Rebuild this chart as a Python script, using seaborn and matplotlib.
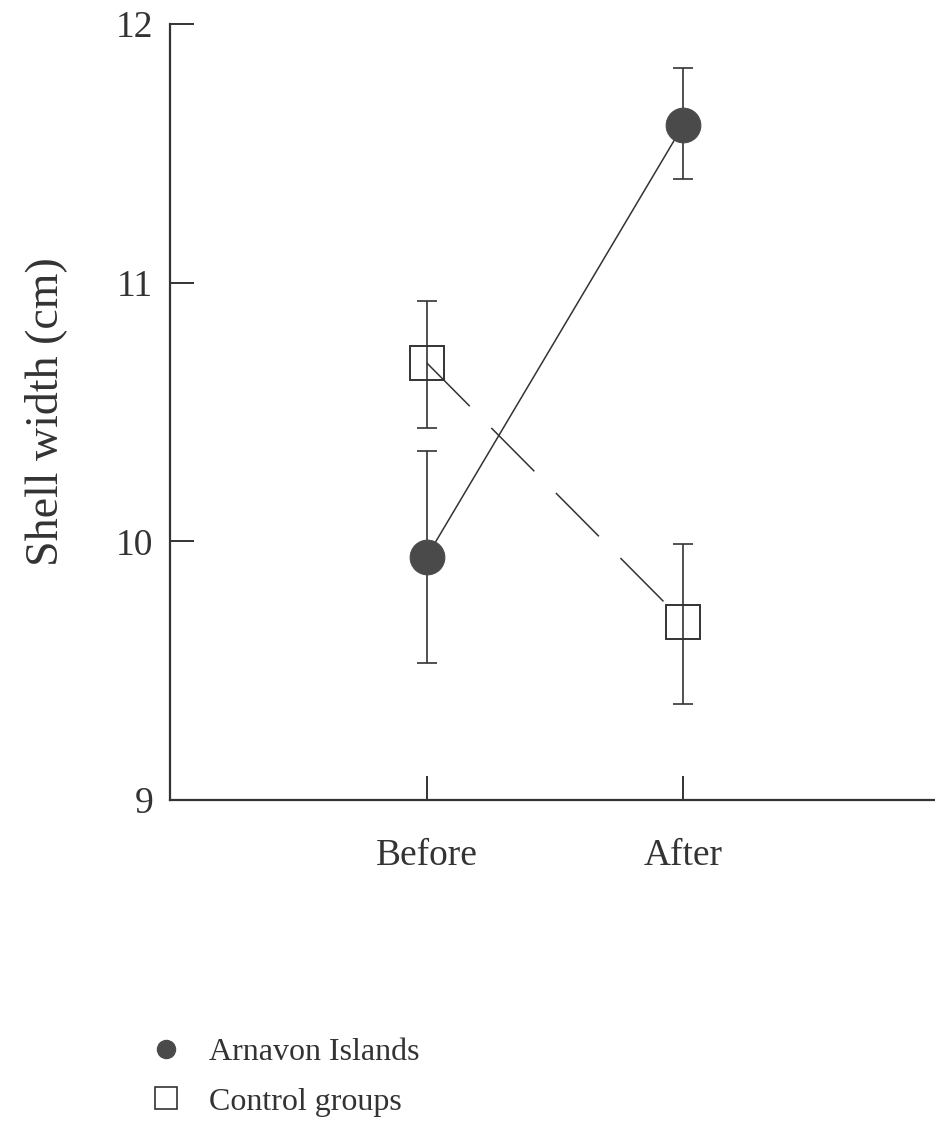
import pandas as pd
import seaborn as sns
import matplotlib.pyplot as plt
from matplotlib.lines import Line2D

# === DATA ===
periods = ["Before", "After"]
groups = ["Arnavon Islands", "Control groups"]
arnavon_mean = [9.94, 11.61]
arnavon_lo = [9.53, 11.40]
arnavon_hi = [10.35, 11.83]
control_mean = [10.69, 9.69]
control_lo = [10.44, 9.37]
control_hi = [10.93, 9.99]
y_ticks = [9, 10, 11, 12]

df = pd.DataFrame({
    "period": periods * 2,
    "group": [groups[0]] * 2 + [groups[1]] * 2,
    "width": arnavon_mean + control_mean,
    "lo": arnavon_lo + control_lo,
    "hi": arnavon_hi + control_hi,
})

sns.set_style("ticks")
plt.rcParams["font.family"] = ["Liberation Serif", "DejaVu Serif"]
ink = "#333333"
fill = "#4a4a4a"

fig = plt.figure(figsize=(9.35, 11.22), dpi=100)
ax = fig.add_axes([170 / 935, 1 - 800 / 1122, 765 / 935, 776 / 1122])

# === error bars first, under the markers ===
for g in groups:
    sub = df[df["group"] == g]
    ax.errorbar(sub["period"], sub["width"],
                yerr=[sub["width"] - sub["lo"], sub["hi"] - sub["width"]],
                fmt="none", ecolor=ink, elinewidth=1.2, capsize=7.5, capthick=1.2,
                zorder=1)

sns.lineplot(data=df, x="period", y="width", hue="group", style="group",
             palette={groups[0]: ink, groups[1]: ink},
             markers={groups[0]: "o", groups[1]: "s"},
             dashes={groups[0]: "", groups[1]: (40, 20)},
             linewidth=1.1, markersize=25, sort=False, legend=False, ax=ax, zorder=2)

# style the markers: filled circles, open squares
for line in ax.lines:
    if line.get_marker() == "o":
        line.set_markerfacecolor(fill)
        line.set_markeredgecolor(fill)
    elif line.get_marker() == "s":
        line.set_markerfacecolor("none")
        line.set_markeredgecolor(ink)
        line.set_markeredgewidth(1.4)

# === axes ===
ax.set_xlim(-1, 1.98)
ax.set_ylim(9, 12)
ax.set_yticks(y_ticks)
ax.set_xticks(range(len(periods)))
ax.set_xticklabels(periods)
sns.despine(ax=ax)
for s in ["left", "bottom"]:
    ax.spines[s].set_linewidth(1.6)
    ax.spines[s].set_color(ink)
ax.tick_params(axis="both", direction="in", length=17, width=1.4, color=ink,
               labelsize=27, labelcolor=ink)
ax.tick_params(axis="y", pad=12)
ax.tick_params(axis="x", pad=28)
ax.set_xlabel("")
ax.set_ylabel("Shell width (cm)", fontsize=33, color=ink)
ax.yaxis.set_label_coords(-0.135, 0.5)

# === legend below the plot ===
handles = [
    Line2D([], [], linestyle="none", marker="o", markersize=13,
           markerfacecolor=fill, markeredgecolor=fill),
    Line2D([], [], linestyle="none", marker="s", markersize=16,
           markerfacecolor="none", markeredgecolor=ink, markeredgewidth=1.2),
]
fig.legend(handles, groups, loc="upper left", bbox_to_anchor=(150 / 935, 1 - 1038 / 1122),
           frameon=False, fontsize=23, labelcolor=ink, handlelength=1.0,
           handletextpad=0.85, labelspacing=0.62, borderaxespad=0, borderpad=0)

plt.savefig("out.png", dpi=100)
plt.close()
